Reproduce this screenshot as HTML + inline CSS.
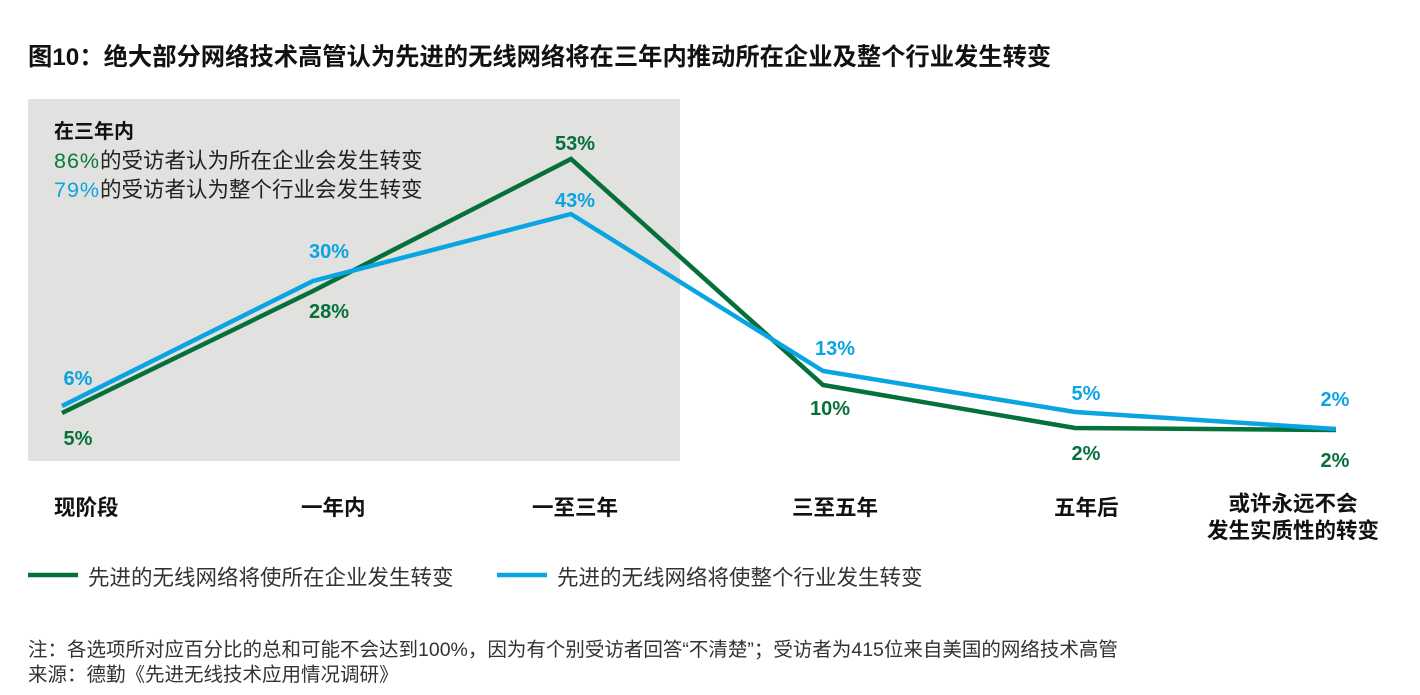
<!DOCTYPE html>
<html><head><meta charset="utf-8"><style>
body{margin:0;width:1420px;height:695px;background:#fff;overflow:hidden;font-family:"Liberation Sans","Noto Sans CJK SC",sans-serif;color:#111;position:relative}
.a{position:absolute;white-space:nowrap}
</style></head><body>
<div class="a" style="left:28px;top:37px;font-size:24.3px;font-weight:bold">图10：绝大部分网络技术高管认为先进的无线网络将在三年内推动所在企业及整个行业发生转变</div>
<div class="a" style="left:28px;top:99px;width:652px;height:362px;background:#e1e1e0"></div>
<div class="a" style="left:54px;top:115px;font-size:20px;font-weight:bold">在三年内</div>
<div class="a" style="left:54px;top:144px;font-size:21.5px;color:#222"><span style="color:#0b7a3a;letter-spacing:1px">86%</span>的受访者认为所在企业会发生转变</div>
<div class="a" style="left:54px;top:173px;font-size:21.5px;color:#222"><span style="color:#0fa3e0;letter-spacing:1px">79%</span>的受访者认为整个行业会发生转变</div>
<svg class="a" style="left:0;top:0" width="1420" height="695">
<polyline points="62,413 313,291 571,159 823,385 1075,428 1336,430" fill="none" stroke="#06703a" stroke-width="4.5"/>
<polyline points="62,406 313,281 571,214 823,371 1075,412 1336,429" fill="none" stroke="#0aa4e2" stroke-width="4.5"/>
<g font-size="20" font-weight="bold" text-anchor="middle" font-family="Liberation Sans,sans-serif">
<g fill="#06703a"><text x="78" y="445">5%</text><text x="329" y="318">28%</text><text x="575" y="150">53%</text><text x="830" y="415">10%</text><text x="1086" y="460">2%</text><text x="1335" y="467">2%</text></g>
<g fill="#0aa4e2"><text x="78" y="385">6%</text><text x="329" y="258">30%</text><text x="575" y="207">43%</text><text x="835" y="355">13%</text><text x="1086" y="400">5%</text><text x="1335" y="406">2%</text></g>
</g>
<line x1="28" y1="575" x2="78" y2="575" stroke="#06703a" stroke-width="4.5"/>
<line x1="497" y1="575" x2="547" y2="575" stroke="#0aa4e2" stroke-width="4.5"/>
</svg>
<div class="a" style="left:0;top:491px;width:1420px;font-size:21.5px;font-weight:bold">
<span class="a" style="left:54px">现阶段</span>
<span class="a" style="left:301px">一年内</span>
<span class="a" style="left:532px">一至三年</span>
<span class="a" style="left:792px">三至五年</span>
<span class="a" style="left:1054px">五年后</span>
<span class="a" style="left:1207px;text-align:center;line-height:27px">或许永远不会<br>发生实质性的转变</span>
</div>
<div class="a" style="left:88px;top:561px;font-size:21.5px;color:#333">先进的无线网络将使所在企业发生转变</div>
<div class="a" style="left:557px;top:561px;font-size:21.5px;color:#333">先进的无线网络将使整个行业发生转变</div>
<div class="a" style="left:28px;top:638px;font-size:19.5px;color:#333;line-height:25px">注：各选项所对应百分比的总和可能不会达到100%，因为有个别受访者回答“不清楚”；受访者为415位来自美国的网络技术高管<br>来源：德勤《先进无线技术应用情况调研》</div>
</body></html>
